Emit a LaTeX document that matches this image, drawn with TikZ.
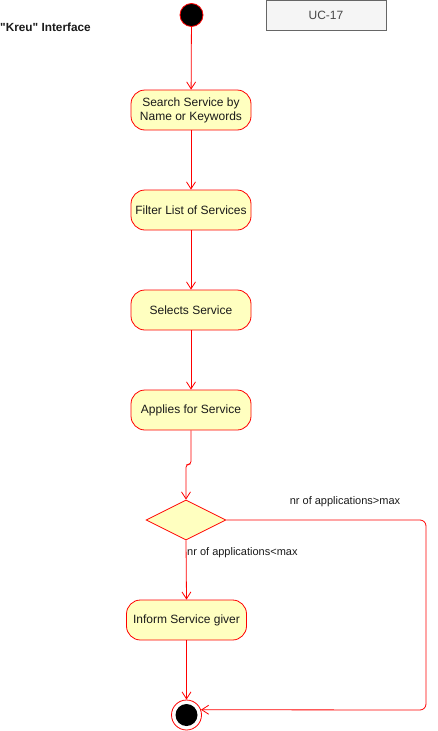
\documentclass[tikz,border=0pt]{standalone}
\usepackage{fontspec}
\setmainfont{Liberation Sans}
\newfontfamily\plainquotes{Liberation Sans}
\usetikzlibrary{shapes.geometric,arrows.meta}
\definecolor{actfill}{HTML}{FFFFC0}
\definecolor{ucfill}{HTML}{F5F5F5}
\definecolor{ucline}{HTML}{666666}
\definecolor{txt}{HTML}{1A1A1A}
\tikzset{
  activity/.style={draw=red, fill=actfill, line width=0.8pt, rounded corners=14pt,
    minimum width=120pt, minimum height=40pt, align=center, text=txt,
    font=\fontsize{12}{14}\selectfont, inner sep=2pt},
  decision/.style={draw=red, fill=actfill, line width=0.8pt, diamond, aspect=2,
    minimum width=80pt, minimum height=40pt, inner sep=0pt},
  startnode/.style={circle, draw=red, fill=black, line width=0.8pt, minimum size=23pt, inner sep=0pt},
  endnode/.style={circle, draw=red, fill=white, line width=0.8pt, minimum size=30pt, inner sep=0pt,
    path picture={\fill[black] (path picture bounding box.center) circle (11pt);}},
  flow/.style={draw=red, line width=0.8pt, -{Straight Barb[length=7pt,width=9pt]}},
  guard/.style={text=txt, font=\fontsize{11}{13}\selectfont, inner sep=0pt}
}
\begin{document}
\begin{tikzpicture}[x=1pt,y=-1pt]
\useasboundingbox (0,0) rectangle (437,731);
% header
\node[anchor=west, text=txt, font=\plainquotes\bfseries\fontsize{11.8}{14}\selectfont, inner sep=0pt] (title) at (0,27) {"Kreu" Interface};
\node[draw=ucline, fill=ucfill, line width=0.8pt, minimum width=120pt, minimum height=30pt,
  text=ucline!70!black, font=\fontsize{12}{14}\selectfont] (uc) at (326,15) {UC-17};
% activities
\node[startnode] (start) at (191.5,15) {};
\node[activity] (search) at (191,110) {Search Service by\\Name or Keywords};
\node[activity] (filter) at (191,210) {Filter List of Services};
\node[activity] (select) at (191,310) {Selects Service};
\node[activity] (apply) at (191,410) {Applies for Service};
\node[decision] (dec) at (186,520) {};
\node[activity] (inform) at (186.5,620) {Inform Service giver};
\node[endnode] (end) at (186.5,715) {};
\coordinate (corner) at (426,520);
% flows
\draw[flow] (start) -- (search);
\draw[flow] (search) -- (filter);
\draw[flow] (filter) -- (select);
\draw[flow] (select) -- (apply);
\draw[flow, rounded corners=3pt] (apply.south) -- ++(0,34) -| (dec.north);
\draw[flow] (dec.south) -- (inform.north);
\draw[flow] (inform) -- (end);
\draw[flow, rounded corners=6pt] (dec.east) -- (corner) -- (corner |- 0,710) -- (end.20);
% guards
\node[guard] (gmax) at (345,502) {nr of applications>max};
\node[guard, anchor=west] (gmin) at (187,553) {nr of applications<max};
\end{tikzpicture}
\end{document}
